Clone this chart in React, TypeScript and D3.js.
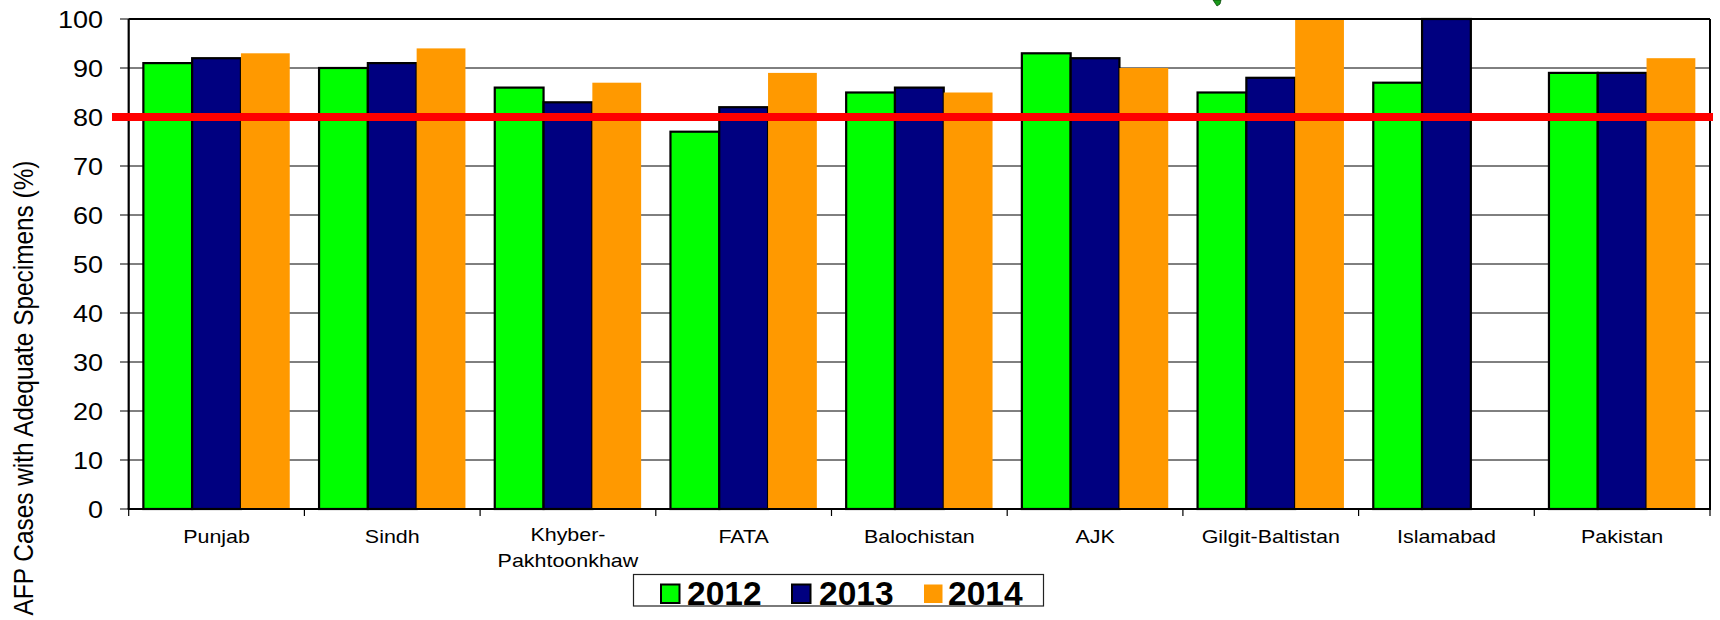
import React from "react";
import * as d3 from "d3";

const categories = ["Punjab", "Sindh", "Khyber-\nPakhtoonkhaw", "FATA", "Balochistan", "AJK", "Gilgit-Baltistan", "Islamabad", "Pakistan"];
const values2012 = [91, 90, 86, 77, 85, 93, 85, 87, 89];
const values2013 = [92, 91, 83, 82, 86, 92, 88, 100, 89];
const values2014: (number | null)[] = [93, 94, 87, 89, 85, 90, 100, null, 92];
const seriesNames = ["2012", "2013", "2014"];
const seriesColors = ["#00ff00", "#000080", "#ff9900"];
const seriesStroked = [true, true, false];
const yTicks = [0, 10, 20, 30, 40, 50, 60, 70, 80, 90, 100];
const targetValue = 80;
const yTitle = "AFP Cases with Adequate Specimens (%)";

const FONT = "'Liberation Sans', Arial, sans-serif";
const SX = 1.16;

export default function App() {
  const W = 1720, H = 620;
  const left = 128.7, right = 1710, top = 19, bottom = 509;
  const x = d3.scaleBand<string>().domain(categories).range([left, right]).paddingInner(0).paddingOuter(0);
  const y = d3.scaleLinear().domain([0, 100]).range([bottom, top]);
  const bw = x.bandwidth();
  const barW = bw * 0.2777;
  const off = (bw - 3 * barW) / 2;
  const series = [values2012, values2013, values2014];

  return (
    <svg width={W} height={H} style={{ position: "absolute", left: 0, top: 0, background: "#fff" }} fontFamily={FONT}>
      {/* gridlines */}
      {yTicks.map((t) => (
        <line key={"g" + t} x1={120} x2={right} y1={y(t)} y2={y(t)} stroke="#000" strokeWidth={1} />
      ))}
      {/* y tick labels */}
      {yTicks.map((t) => (
        <text key={"yl" + t} transform={`translate(103,${y(t) + 8.5}) scale(${SX},1)`} textAnchor="end" fontSize={23.3} fill="#000">
          {t}
        </text>
      ))}
      {/* bars */}
      {categories.map((c, i) => (
        <g key={c}>
          {series.map((s, k) => {
            const v = s[i];
            if (v == null) return null;
            const x0 = (x(c) as number) + off + k * barW;
            return (
              <rect
                key={k}
                x={x0}
                y={y(v)}
                width={barW}
                height={y(0) - y(v)}
                fill={seriesColors[k]}
                stroke={seriesStroked[k] ? "#000" : "none"}
                strokeWidth={seriesStroked[k] ? 2.2 : 0}
              />
            );
          })}
        </g>
      ))}
      {/* plot border */}
      <line x1={left} x2={right} y1={top} y2={top} stroke="#000" strokeWidth={2} />
      <line x1={right} x2={right} y1={top} y2={bottom} stroke="#000" strokeWidth={2} />
      <line x1={left} x2={left} y1={top} y2={bottom} stroke="#000" strokeWidth={2.2} />
      <line x1={left - 1} x2={right + 1} y1={bottom} y2={bottom} stroke="#000" strokeWidth={2.2} />
      {/* x ticks */}
      {categories.map((c) => (
        <line key={"xt" + c} x1={x(c) as number} x2={x(c) as number} y1={bottom} y2={bottom + 7} stroke="#000" strokeWidth={1.2} />
      ))}
      <line x1={right} x2={right} y1={bottom} y2={bottom + 7} stroke="#000" strokeWidth={1.2} />
      {/* x labels */}
      {categories.map((c) => {
        const cx = (x(c) as number) + bw / 2;
        const lines = c.split("\n");
        return (
          <g key={"xl" + c}>
            {lines.map((ln, j) => (
              <text key={j} transform={`translate(${cx},${lines.length > 1 ? 541 + j * 26 : 543}) scale(${SX},1)`} textAnchor="middle" fontSize={18.5} fill="#000">
                {ln}
              </text>
            ))}
          </g>
        );
      })}
      {/* target line */}
      <line x1={112} x2={1713} y1={y(targetValue)} y2={y(targetValue)} stroke="#ff0000" strokeWidth={8} />
      {/* y axis title */}
      <text transform={`translate(33,388) rotate(-90) scale(1,${SX})`} textAnchor="middle" fontSize={24.4} fill="#000">
        {yTitle}
      </text>
      {/* legend */}
      <rect x={633.5} y={574.5} width={410} height={31.5} fill="#fff" stroke="#222" strokeWidth={1.2} />
      {seriesNames.map((n, k) => {
        const sx = [661, 792, 924][k];
        const tx = [687, 819, 948][k];
        return (
          <g key={n}>
            <rect x={sx} y={584.5} width={18.5} height={18.5} fill={seriesColors[k]} stroke={seriesStroked[k] ? "#000" : "none"} strokeWidth={2} />
            <text x={tx} y={604.5} fontSize={33.5} fontWeight="bold" fill="#000">
              {n}
            </text>
          </g>
        );
      })}
      {/* small green artifact at top */}
      <path d="M1213,0 L1221,0 L1220,4 L1217,6 L1215,3 Z" fill="#1a9a1a" stroke="#0a4a0a" strokeWidth={0.8} />
    </svg>
  );
}
